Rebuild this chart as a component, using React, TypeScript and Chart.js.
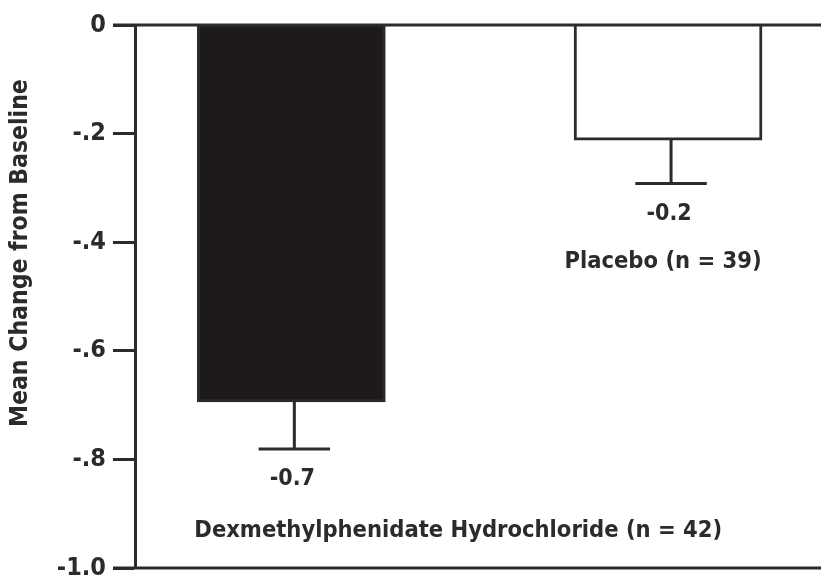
import React, { useEffect, useRef } from "react";
import { Chart, registerables } from "chart.js";

Chart.register(...registerables);

const categories = ["Dexmethylphenidate Hydrochloride (n = 42)", "Placebo (n = 39)"];
const positions = [0, 1];
const meanChange = [-0.694, -0.212];
const errorLow = [-0.781, -0.292];
const valueLabels = ["-0.7", "-0.2"];
const yTicks = [0, -0.2, -0.4, -0.6, -0.8, -1.0];
const yTitle = "Mean Change from Baseline";

const INK = "#2b2b2b";
const FONT = "'DejaVu Sans Condensed', 'Liberation Sans', Arial, sans-serif";

const fmtTick = (v: number) => {
  const r = Math.round(v * 10) / 10;
  if (r === 0) return "0";
  if (r === -1) return "-1.0";
  return "-" + String(Math.abs(r)).slice(1);
};

const annotPlugin = {
  id: "annot",
  afterDatasetsDraw(chart: any) {
    const { ctx, chartArea, scales } = chart;
    const xs = scales.x;
    const ys = scales.y;
    const meta = chart.getDatasetMeta(0);
    ctx.save();
    ctx.strokeStyle = INK;
    ctx.lineWidth = 3;
    ctx.beginPath();
    ctx.moveTo(chartArea.left - 22, ys.getPixelForValue(0));
    ctx.lineTo(chartArea.right, ys.getPixelForValue(0));
    ctx.moveTo(chartArea.left - 22, ys.getPixelForValue(-1));
    ctx.lineTo(chartArea.right, ys.getPixelForValue(-1));
    ctx.stroke();

    meta.data.forEach((bar: any, i: number) => {
      const cx = xs.getPixelForValue(positions[i]);
      const yv = ys.getPixelForValue(meanChange[i]);
      const ye = ys.getPixelForValue(errorLow[i]);
      const halfCap = bar.width * 0.19;
      ctx.lineWidth = 3;
      ctx.beginPath();
      ctx.moveTo(cx + 3, yv);
      ctx.lineTo(cx + 3, ye);
      ctx.moveTo(cx + 3 - halfCap, ye);
      ctx.lineTo(cx + 3 + halfCap, ye);
      ctx.stroke();

      ctx.fillStyle = INK;
      ctx.textBaseline = "middle";
      ctx.font = `bold 23px ${FONT}`;
      ctx.textAlign = "center";
      ctx.fillText(valueLabels[i], cx + 1, ye + 30);
      ctx.font = `bold 23.5px ${FONT}`;
      if (i === 0) {
        ctx.textAlign = "left";
        ctx.fillText(categories[i], cx - bar.width / 2 - 3, ye + 82);
      } else {
        ctx.textAlign = "center";
        ctx.fillText(categories[i], cx - 5, ye + 78);
      }
    });

    ctx.save();
    ctx.translate(21, ys.getPixelForValue(-0.42));
    ctx.rotate(-Math.PI / 2);
    ctx.font = `bold 24.5px ${FONT}`;
    ctx.textAlign = "center";
    ctx.textBaseline = "middle";
    ctx.fillStyle = INK;
    ctx.fillText(yTitle, 0, 0);
    ctx.restore();
    ctx.restore();
  },
};

export default function App() {
  const ref = useRef<HTMLCanvasElement | null>(null);
  useEffect(() => {
    if (!ref.current) return;
    const chart = new Chart(ref.current, {
      type: "bar",
      data: {
        datasets: [
          {
            data: positions.map((p, i) => ({ x: p, y: meanChange[i] })),
            backgroundColor: ["#1e1a1b", "#ffffff"],
            borderColor: [INK, INK],
            borderWidth: 3,
            barThickness: 188,
          },
        ],
      },
      options: {
        animation: false,
        responsive: false,
        maintainAspectRatio: false,
        layout: { padding: { top: 25, bottom: 0, left: 0, right: 0 } },
        plugins: { legend: { display: false }, tooltip: { enabled: false } },
        scales: {
          x: {
            type: "linear",
            min: -0.415,
            max: 1.406,
            offset: false,
            display: false,
          },
          y: {
            min: -1,
            max: 0,
            afterFit: (s: any) => {
              s.width = 135;
            },
            afterBuildTicks: (s: any) => {
              s.ticks = yTicks.map((v) => ({ value: v }));
            },
            ticks: {
              callback: (v: any) => fmtTick(Number(v)),
              color: INK,
              font: { family: FONT, size: 25, weight: "bold" },
              padding: 7,
            },
            grid: {
              drawOnChartArea: false,
              tickLength: 22,
              tickWidth: 3,
              tickColor: INK,
            },
            border: { display: true, color: INK, width: 3 },
          },
        },
      },
      plugins: [annotPlugin],
    });
    return () => chart.destroy();
  }, []);
  return (
    <div style={{ position: "fixed", left: 0, top: 0, width: 821, height: 579, overflow: "hidden", background: "#fff" }}>
      <canvas ref={ref} width={821} height={590} style={{ width: 821, height: 590, display: "block" }} />
    </div>
  );
}
